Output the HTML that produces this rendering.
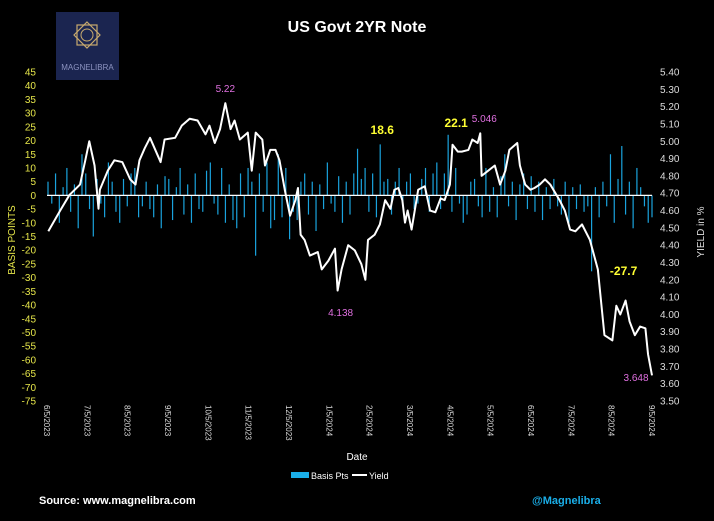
<!DOCTYPE html>
<html><head><meta charset="utf-8"><style>
body{margin:0;background:#000;width:714px;height:516px;overflow:hidden;font-family:"Liberation Sans",sans-serif}
</style></head><body>
<svg id="c" width="714" height="516" viewBox="0 0 714 516" xmlns="http://www.w3.org/2000/svg">
<rect width="714" height="516" fill="#000"/>
<g>
<rect x="56" y="12" width="63" height="68" fill="#1b2550"/>
<polygon points="87,22 100,35 87,48 74,35" fill="none" stroke="#c8aa6e" stroke-width="1.2"/>
<rect x="77" y="25" width="20" height="20" fill="none" stroke="#c8aa6e" stroke-width="1.2"/>
<circle cx="87" cy="35" r="6" fill="none" stroke="#c8aa6e"/>
<text x="87.5" y="70" font-size="8" fill="#8c93c0" text-anchor="middle">MAGNELIBRA</text>
</g>
<text x="357" y="32" font-size="16" font-weight="bold" fill="#fff" text-anchor="middle">US Govt 2YR Note</text>
<text transform="translate(15,240) rotate(-90)" font-size="10" fill="#e6e64a" text-anchor="middle">BASIS POINTS</text>
<text transform="translate(704,232) rotate(-90)" font-size="10" fill="#ddd" text-anchor="middle">YIELD in %</text>
<text x="357" y="460" font-size="10" fill="#fff" text-anchor="middle">Date</text>
<g>
<rect x="291" y="472" width="18" height="6" fill="#1aaee8"/>
<text x="311" y="479" font-size="9" fill="#fff">Basis Pts</text>
<line x1="352" y1="475" x2="367" y2="475" stroke="#fff" stroke-width="2"/>
<text x="369" y="479" font-size="9" fill="#fff">Yield</text>
</g>
<text x="39" y="504" font-size="11" font-weight="bold" fill="#fff">Source: www.magnelibra.com</text>
<text x="532" y="504" font-size="11" font-weight="bold" fill="#1aaee8">@Magnelibra</text>
<g id="g"></g>
</svg>
<script>
const leftTicks=[45,40,35,30,25,20,15,10,5,0,-5,-10,-15,-20,-25,-30,-35,-40,-45,-50,-55,-60,-65,-70,-75];
const rightTicks=["5.40","5.30","5.20","5.10","5.00","4.90","4.80","4.70","4.60","4.50","4.40","4.30","4.20","4.10","4.00","3.90","3.80","3.70","3.60","3.50"];
const dateLabels=["6/5/2023","7/5/2023","8/5/2023","9/5/2023","10/5/2023","11/5/2023","12/5/2023","1/5/2024","2/5/2024","3/5/2024","4/5/2024","5/5/2024","6/5/2024","7/5/2024","8/5/2024","9/5/2024"];
// days since 6/5/2023
const yieldDays=[1,10,17,25,29,32,36,39,40,46,51,57,63,67,70,74,78,86,89,97,102,108,114,120,123,127,131,135,139,142,146,152,155,158,163,165,169,173,176,180,184,188,190,192,195,199,205,208,213,218,220,223,228,233,238,241,243,248,252,256,260,263,266,269,271,273,276,281,286,290,294,298,301,305,307,311,314,319,322,326,328,329,334,339,343,347,350,356,358,362,366,369,373,377,381,388,392,396,400,405,411,417,422,428,431,434,438,441,445,449,453,455,458];
const yields=[4.48,4.60,4.69,4.75,4.89,5.00,4.86,4.61,4.72,4.83,4.89,4.88,4.78,4.75,4.89,4.96,5.02,4.88,5.01,5.02,5.09,5.13,5.12,5.04,5.09,4.99,5.07,5.22,5.07,5.12,5.01,5.05,4.83,5.05,5.01,4.86,4.95,4.95,4.89,4.72,4.57,4.66,4.73,4.46,4.43,4.34,4.36,4.26,4.31,4.38,4.138,4.26,4.40,4.37,4.29,4.20,4.43,4.46,4.52,4.66,4.61,4.72,4.73,4.66,4.53,4.60,4.49,4.72,4.74,4.60,4.59,4.67,4.66,4.75,4.98,4.94,4.94,4.95,5.01,4.99,5.046,4.80,4.83,4.86,4.75,4.83,4.95,4.99,4.86,4.75,4.72,4.73,4.75,4.78,4.75,4.66,4.60,4.49,4.48,4.52,4.43,4.26,3.88,3.85,4.05,4.00,4.08,3.96,3.88,3.93,3.92,3.77,3.648];
const basisPts=[5,-3,8,-10,3,10,-6,4,-12,15,8,-5,-15,6,-3,-8,12,5,-6,-10,6,-4,8,10,-8,-4,5,-5,-8,4,-12,7,6,-9,3,10,-7,4,-10,8,-5,-6,9,12,-3,-7,10,-10,4,-9,-12,8,-8,10,5,-22,8,-6,12,-12,-9,15,-8,10,-16,-6,-9,5,8,-7,5,-13,4,-5,12,-3,-6,7,-10,5,-7,8,17,6,10,-6,8,-8,18.6,5,6,-7,5,10,-4,5,8,-5,-3,6,10,-6,8,12,-5,8,22.1,-6,10,-3,-10,-7,5,6,-4,-8,10,-6,3,-8,7,15,-4,5,-9,4,8,-5,7,-6,5,-9,3,-5,6,-4,-7,5,-10,3,-5,4,-6,-4,-27.7,3,-8,5,-4,15,-10,6,18,-7,5,-12,10,3,-4,-10,-8];
const NS='http://www.w3.org/2000/svg';
const g=document.getElementById('g');
const X0=47,X1=652,YT=72,YB=401,DAYS=458;
const yL=v=>YT+(45-v)/120*(YB-YT);
const yR=v=>YT+(5.40-v)/1.9*(YB-YT);
const xD=d=>X0+d/DAYS*(X1-X0);
function mk(t,a,p){const e=document.createElementNS(NS,t);for(const k in a)e.setAttribute(k,a[k]);(p||g).appendChild(e);return e;}
leftTicks.forEach(v=>{const t=mk('text',{x:36,y:yL(v)+3.5,'font-size':10,fill:'#e6e64a','text-anchor':'end'});t.textContent=v;

});
rightTicks.forEach(v=>{const t=mk('text',{x:660,y:yR(+v)+3.5,'font-size':10,fill:'#ddd'});t.textContent=v;

});
dateLabels.forEach((d,i)=>{const x=X0+i*((X1-X0)/15);const t=mk('text',{transform:`translate(${x-3},405) rotate(90)`,'font-size':8,fill:'#ddd'});t.textContent=d;

});
const bx=i=>X0+1+i*(X1-X0-1)/(basisPts.length-1);
basisPts.forEach((v,i)=>{const y0=yL(0),y1=yL(v);const r=mk('rect',{x:bx(i)-0.6,y:Math.min(y0,y1),width:1.2,height:Math.abs(y1-y0),fill:'#1aa3dd'});

});
const zl=mk('line',{x1:X0,x2:X1,y1:yL(0),y2:yL(0),stroke:'#fff','stroke-width':1.2});


const yx=i=>xD(yieldDays[i]);
const pl=mk('polyline',{points:yields.map((v,i)=>yx(i)+','+yR(v)).join(' '),fill:'none',stroke:'#fff','stroke-width':2,'stroke-linejoin':'round'});


function lab(x,y,txt,col,bold,name){const t=mk('text',{x:x,y:y,'font-size':bold?12:10,'font-weight':bold?'bold':'normal',fill:col,'text-anchor':'middle'});t.textContent=txt;

}
let mx=0;yields.forEach((v,i)=>{if(v>yields[mx])mx=i;});
let lo=0;for(let i=0;i<80;i++)if(yields[i]<yields[lo])lo=i;
let h2=70;for(let i=70;i<100;i++)if(yields[i]>yields[h2])h2=i;
const last=yields.length-1;
lab(yx(mx),92,yields[mx].toFixed(2),'#e070e0',false,'label-yield-high');
lab(yx(h2)+4,122,yields[h2].toFixed(3),'#e070e0',false,'label-yield-high-2');
lab(yx(lo)+3,316,yields[lo].toFixed(3),'#e070e0',false,'label-yield-low');
lab(yx(last)-16,381,yields[last].toFixed(3),'#e070e0',false,'label-yield-last');
const bmax=basisPts.indexOf(22.1),b2=basisPts.indexOf(18.6),bmin=basisPts.indexOf(-27.7);
lab(bx(b2)+2,134,basisPts[b2],'#ffff33',true,'label-bp-18');
lab(bx(bmax)+8,127,basisPts[bmax],'#ffff33',true,'label-bp-22');
lab(bx(bmin)+32,275,basisPts[bmin],'#ffff33',true,'label-bp-min');
</script>
</body></html>
